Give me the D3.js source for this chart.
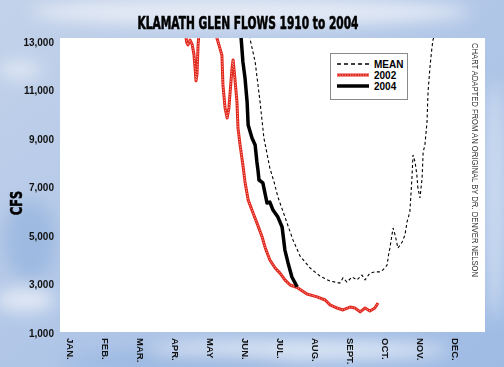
<!DOCTYPE html>
<html>
<head>
<meta charset="utf-8">
<script src="https://cdn.jsdelivr.net/npm/d3@7"></script>
<style>
  html, body { margin: 0; padding: 0; background: #b9cbe8; }
  svg { display: block; }
</style>
</head>
<body>
<svg id="chart" width="504" height="367"></svg>
<script>
// month labels (x = month index, JAN = 0)
var monthLabels = ["JAN.", "FEB.", "MAR.", "APR.", "MAY", "JUN.", "JUL.", "AUG.", "SEPT.", "OCT.", "NOV.", "DEC."]
var cfsTicks = [1000, 3000, 5000, 7000, 9000, 11000, 13000]

// mean flow 1910-2004 : [month, cfs]
var meanFlow = [
  [5.10, 13500], [5.14, 13150], [5.29, 12180], [5.43, 10530], [5.54, 9040], [5.71, 7800],
  [5.83, 7230], [5.94, 6610], [6.20, 5540], [6.37, 4840], [6.57, 4180], [6.86, 3680],
  [7.14, 3350], [7.43, 3140], [7.71, 3060], [7.80, 3270], [7.91, 3100], [8.06, 3310],
  [8.20, 3190], [8.34, 3390], [8.43, 3190], [8.57, 3470], [8.71, 3520], [8.86, 3520],
  [8.94, 3600], [9.06, 3800], [9.11, 4300], [9.14, 4500], [9.23, 5330], [9.29, 5040],
  [9.37, 4500], [9.49, 4750], [9.57, 5040], [9.63, 5580], [9.71, 5990], [9.77, 7390],
  [9.80, 8340], [9.86, 8050], [9.91, 7520], [9.94, 6980], [10.00, 6570], [10.06, 7390],
  [10.09, 8460], [10.14, 8750], [10.20, 9700], [10.23, 10940], [10.29, 12050],
  [10.34, 12750], [10.37, 13080], [10.46, 13500]
]

// 2002 flow : [month, cfs]
var flow2002 = [
  [3.29, 13600], [3.33, 13000], [3.37, 12880], [3.43, 13080], [3.49, 12900], [3.54, 12500],
  [3.58, 11800], [3.60, 11400], [3.63, 11700], [3.66, 12900], [3.70, 13600],
  [4.18, 13600], [4.20, 13150], [4.34, 12460], [4.37, 11230], [4.43, 10280], [4.49, 9870],
  [4.54, 10280], [4.63, 11930], [4.66, 12260], [4.71, 11520], [4.77, 10530], [4.80, 9450],
  [4.86, 8750], [4.94, 7930], [5.00, 7230], [5.09, 6490], [5.23, 5950], [5.34, 5540],
  [5.49, 4960], [5.57, 4550], [5.71, 4010], [5.86, 3680], [6.00, 3470], [6.14, 3190],
  [6.29, 2980], [6.51, 2860], [6.77, 2610], [7.06, 2490], [7.29, 2360], [7.43, 2160],
  [7.63, 2030], [7.80, 1950], [8.00, 2070], [8.14, 2030], [8.29, 1870], [8.43, 2030],
  [8.57, 1910], [8.71, 2030], [8.80, 2240]
]

// 2004 flow : [month, cfs]
var flow2004 = [
  [4.87, 13600], [4.89, 13150], [4.94, 12180], [5.00, 11520], [5.06, 10530], [5.09, 9580],
  [5.20, 9040], [5.29, 8750], [5.34, 8050], [5.37, 7720], [5.40, 7310], [5.51, 7190],
  [5.63, 6360], [5.71, 6400], [5.80, 6070], [5.94, 5780], [6.06, 5370], [6.14, 4420],
  [6.23, 3890], [6.34, 3310], [6.49, 2900]
]

var svg = d3.select("#chart")
var plot = { left: 60, right: 485, top: 38, bottom: 332 }

var x = d3.scaleLinear().domain([0, 11]).range([70, 455])
var y = d3.scaleLinear().domain([1000, 13000]).range([333, 42])

// sky background
var defs = svg.append("defs")
var bg = defs.append("linearGradient").attr("id", "sky").attr("x1", 0).attr("y1", 0).attr("x2", 1).attr("y2", 1)
bg.append("stop").attr("offset", "0%").attr("stop-color", "#c3d2ea")
bg.append("stop").attr("offset", "45%").attr("stop-color", "#b3c8e8")
bg.append("stop").attr("offset", "100%").attr("stop-color", "#9fbbe4")
defs.append("filter").attr("id", "blur").attr("x", "-50%").attr("y", "-50%").attr("width", "200%").attr("height", "200%")
  .append("feGaussianBlur").attr("stdDeviation", 8)
defs.append("clipPath").attr("id", "plotClip").append("rect")
  .attr("x", plot.left).attr("y", plot.top)
  .attr("width", plot.right - plot.left).attr("height", plot.bottom - plot.top)

svg.append("rect").attr("width", 504).attr("height", 367).attr("fill", "url(#sky)")
var clouds = svg.append("g").attr("filter", "url(#blur)")
clouds.append("ellipse").attr("cx", 250).attr("cy", 12).attr("rx", 220).attr("ry", 14).attr("fill", "#eef1f7").attr("opacity", 0.8)
clouds.append("ellipse").attr("cx", 300).attr("cy", 350).attr("rx", 150).attr("ry", 8).attr("fill", "#ffffff").attr("opacity", 0.7)
clouds.append("ellipse").attr("cx", 495).attr("cy", 200).attr("rx", 10).attr("ry", 120).attr("fill", "#e6eef8").attr("opacity", 0.6)
clouds.append("ellipse").attr("cx", 25).attr("cy", 300).attr("rx", 30).attr("ry", 12).attr("fill", "#f2f5fa").attr("opacity", 0.7)
clouds.append("ellipse").attr("cx", 20).attr("cy", 70).attr("rx", 22).attr("ry", 10).attr("fill", "#f0f3f9").attr("opacity", 0.6)
clouds.append("ellipse").attr("cx", 30).attr("cy", 240).attr("rx", 26).attr("ry", 40).attr("fill", "#8fafdc").attr("opacity", 0.6)
clouds.append("ellipse").attr("cx", 180).attr("cy", 362).attr("rx", 120).attr("ry", 10).attr("fill", "#8fb0de").attr("opacity", 0.6)

// plot area
svg.append("rect")
  .attr("x", plot.left).attr("y", plot.top)
  .attr("width", plot.right - plot.left).attr("height", plot.bottom - plot.top)
  .attr("fill", "#ffffff")

// title
svg.append("text")
  .attr("x", 248).attr("y", 29)
  .attr("text-anchor", "middle")
  .attr("font-family", "'Liberation Sans Narrow', 'DejaVu Sans Condensed', sans-serif")
  .attr("font-weight", "bold").attr("font-size", 17)
  .attr("stroke", "#000").attr("stroke-width", 0.6)
  .attr("textLength", 221).attr("lengthAdjust", "spacingAndGlyphs")
  .attr("fill", "#000")
  .text("KLAMATH GLEN FLOWS 1910 to 2004")

// y axis
var yAxis = d3.axisLeft(y).tickValues(cfsTicks).tickFormat(d3.format(",")).tickSize(0).tickPadding(0)
var gy = svg.append("g").attr("transform", "translate(54,0)").call(yAxis)
gy.select(".domain").remove()
gy.selectAll("text")
  .attr("font-family", "'Liberation Sans', Arial, sans-serif")
  .attr("font-weight", "bold").attr("font-size", 10).attr("fill", "#111")

svg.append("text")
  .attr("transform", "translate(22,203) rotate(-90)")
  .attr("text-anchor", "middle")
  .attr("font-family", "'Liberation Sans Narrow', 'DejaVu Sans Condensed', sans-serif")
  .attr("font-weight", "bold").attr("font-size", 16)
  .attr("stroke", "#000").attr("stroke-width", 0.5)
  .attr("textLength", 24).attr("lengthAdjust", "spacingAndGlyphs")
  .text("CFS")

// x axis (month labels, rotated)
var xAxis = d3.axisBottom(x).tickValues(d3.range(12)).tickFormat(function (d) { return monthLabels[d] }).tickSize(0).tickPadding(0)
var gx = svg.append("g").attr("transform", "translate(0,338)").call(xAxis)
gx.select(".domain").remove()
gx.selectAll("text")
  .attr("transform", "rotate(90)")
  .attr("x", 0).attr("y", 0).attr("dy", "0.35em")
  .attr("text-anchor", "start")
  .attr("font-family", "'Liberation Sans', Arial, sans-serif")
  .attr("font-weight", "bold").attr("font-size", 9.5).attr("fill", "#111")

// lines
var line = d3.line().x(function (d) { return x(d[0]) }).y(function (d) { return y(d[1]) })
var lines = svg.append("g").attr("clip-path", "url(#plotClip)")

lines.append("path").datum(meanFlow)
  .attr("d", line).attr("fill", "none")
  .attr("stroke", "#000").attr("stroke-width", 1.1).attr("stroke-dasharray", "3,2.5")

lines.append("path").datum(flow2002)
  .attr("d", line).attr("fill", "none")
  .attr("stroke", "#e2261c").attr("stroke-width", 3).attr("stroke-linejoin", "round")
lines.append("path").datum(flow2002)
  .attr("d", line).attr("fill", "none")
  .attr("stroke", "#f7c9c4").attr("stroke-width", 0.9).attr("stroke-dasharray", "1,1.6")

lines.append("path").datum(flow2004)
  .attr("d", line).attr("fill", "none")
  .attr("stroke", "#000").attr("stroke-width", 3.5).attr("stroke-linejoin", "round")

// legend
var legend = svg.append("g")
legend.append("rect")
  .attr("x", 330.5).attr("y", 53.5).attr("width", 77).attr("height", 46)
  .attr("fill", "#fff").attr("stroke", "#8a8a8a").attr("stroke-width", 1)
var legendItems = [
  { label: "MEAN", y: 64 },
  { label: "2002", y: 75 },
  { label: "2004", y: 86 }
]
legend.append("line").attr("x1", 337).attr("x2", 369).attr("y1", 64).attr("y2", 64)
  .attr("stroke", "#000").attr("stroke-width", 1.3).attr("stroke-dasharray", "4,3")
legend.append("line").attr("x1", 337).attr("x2", 369).attr("y1", 75).attr("y2", 75)
  .attr("stroke", "#e2261c").attr("stroke-width", 3)
legend.append("line").attr("x1", 337).attr("x2", 369).attr("y1", 75).attr("y2", 75)
  .attr("stroke", "#f7c9c4").attr("stroke-width", 0.9).attr("stroke-dasharray", "1,1.6")
legend.append("line").attr("x1", 337).attr("x2", 369).attr("y1", 86).attr("y2", 86)
  .attr("stroke", "#000").attr("stroke-width", 3.5)
legend.selectAll("text.lbl").data(legendItems).enter().append("text")
  .attr("class", "lbl")
  .attr("x", 374).attr("y", function (d) { return d.y }).attr("dy", "0.35em")
  .attr("font-family", "'Liberation Sans', Arial, sans-serif")
  .attr("font-weight", "bold").attr("font-size", 10)
  .text(function (d) { return d.label })

// credit
svg.append("text")
  .attr("transform", "translate(472,43) rotate(90)")
  .attr("font-family", "'Liberation Sans Narrow', 'Liberation Sans', sans-serif")
  .attr("font-size", 8.5).attr("fill", "#333")
  .attr("textLength", 234).attr("lengthAdjust", "spacingAndGlyphs")
  .text("CHART ADAPTED FROM AN ORIGINAL BY DR. DENVER NELSON")
</script>
</body>
</html>
